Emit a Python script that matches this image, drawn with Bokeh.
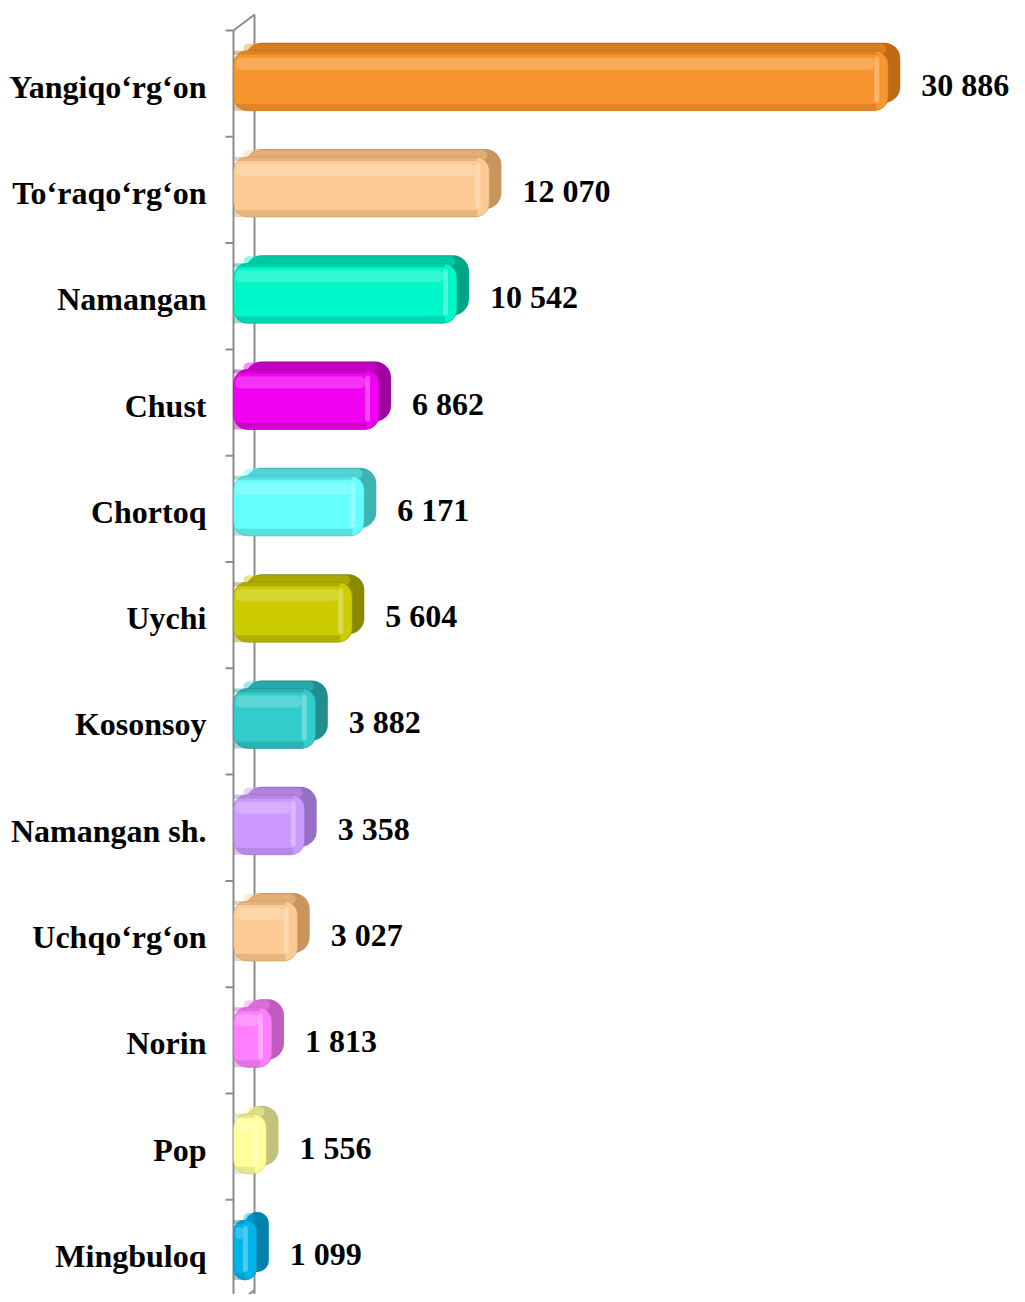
from bokeh.plotting import figure
from bokeh.models import Range1d
from bokeh.core.properties import value
from bokeh.embed import file_html
from bokeh.resources import INLINE

# ---- data ----
districts = ["Yangiqo‘rg‘on", "To‘raqo‘rg‘on", "Namangan", "Chust", "Chortoq", "Uychi",
             "Kosonsoy", "Namangan sh.", "Uchqo‘rg‘on", "Norin", "Pop", "Mingbuloq"]
values = [30886, 12070, 10542, 6862, 6171, 5604, 3882, 3358, 3027, 1813, 1556, 1099]
value_labels = [f"{v:,}".replace(",", " ") for v in values]
colors = ["#F7962F", "#FCCB94", "#00F7CA", "#F200F2", "#66FFFF", "#CCCC00",
          "#33CCCC", "#CC99FF", "#FCCB94", "#FF80FF", "#FFFF99", "#00B4EA"]
darks = ["#C06A16", "#C9955E", "#00A586", "#A000A0", "#3FB3B3", "#8A8A00",
         "#218E8E", "#9570C4", "#C9955E", "#BF5CBF", "#C2C27A", "#0082AD"]

# ---- layout constants ----
W, H = 1017, 1294
AXIS_PX = 233          # front axis position in figure px
PX_PER_UNIT = 0.0212
BAND = 106.3
TOP_PX = 30.0

UPX = 1.0 / PX_PER_UNIT


def dx(px):
    return px * UPX


def dy(px):
    return px / BAND


n = len(districts)
centers = [i + 0.5 for i in range(n)]

p = figure(width=W, height=H, output_backend="svg", toolbar_location=None,
           x_range=Range1d(-AXIS_PX * UPX, (W - AXIS_PX) * UPX),
           y_range=Range1d((H - TOP_PX) / BAND, -TOP_PX / BAND),
           x_axis_location=None, y_axis_location=None, min_border=0)
p.outline_line_color = None
p.xgrid.visible = False
p.ygrid.visible = False
p.background_fill_color = "white"
p.border_fill_color = "white"

# ---- 3D wall lines ----
GRAY = "#8C8C8C"
DEPTH_X, DEPTH_Y = 21, 16
bounds = list(range(n + 1))
p.segment(x0=[0], y0=[0], x1=[0], y1=[n + 0.3], line_color=GRAY, line_width=2)
p.segment(x0=[dx(DEPTH_X)], y0=[-dy(DEPTH_Y)], x1=[dx(DEPTH_X)], y1=[n + 0.3],
          line_color=GRAY, line_width=2)
p.segment(x0=[0, 0], y0=[0, n], x1=[dx(DEPTH_X)] * 2, y1=[-dy(DEPTH_Y), n - dy(DEPTH_Y)],
          line_color=GRAY, line_width=2)
p.segment(x0=[-dx(8)] * len(bounds), y0=bounds, x1=[0] * len(bounds), y1=bounds,
          line_color=GRAY, line_width=2)

# ---- bars ----
p.quad(left=[dx(12)] * n, right=[v + dx(12) for v in values],
       top=[c - dy(41) for c in centers], bottom=[c + dy(19) for c in centers],
       fill_color=darks, line_color=None, border_radius=16)
# top face tint
p.quad(left=[dx(10)] * n, right=[max(v - dx(2), dx(12)) for v in values],
       top=[c - dy(40) for c in centers], bottom=[c - dy(30) for c in centers],
       fill_color=colors, fill_alpha=0.45, line_color=None, border_radius=6)
# front face
p.quad(left=[0] * n, right=values,
       top=[c - dy(33) for c in centers], bottom=[c + dy(27) for c in centers],
       fill_color=colors, line_color=darks, line_alpha=0.6, line_width=1, border_radius=14)
# upper shading
p.quad(left=[0] * n, right=[max(v - dx(12), dx(4)) for v in values],
       top=[c - dy(33) for c in centers], bottom=[c - dy(29) for c in centers],
       fill_color=darks, fill_alpha=0.45, line_color=None)
# highlight band
p.quad(left=[dx(2)] * n, right=[max(v - dx(14), dx(4)) for v in values],
       top=[c - dy(26) for c in centers], bottom=[c - dy(14) for c in centers],
       fill_color="white", fill_alpha=0.2, line_color=None, border_radius=5)
# right highlight
p.quad(left=[max(v - dx(14), dx(3)) for v in values], right=[max(v - dx(9), dx(8)) for v in values],
       top=[c - dy(27) for c in centers], bottom=[c + dy(19) for c in centers],
       fill_color="white", fill_alpha=0.3, line_color=None, border_radius=3)
# bottom shade
p.quad(left=[0] * n, right=[max(v - dx(12), dx(4)) for v in values],
       top=[c + dy(20) for c in centers], bottom=[c + dy(27) for c in centers],
       fill_color=darks, fill_alpha=0.4, line_color=None)

# ---- text ----
p.text(x=[0] * n, y=[c + dy(3) for c in centers], text=districts, x_offset=-27,
       text_align="right", text_baseline="middle",
       text_font=value("Liberation Serif"), text_font_style="bold",
       text_font_size="32px", text_color="black")
p.text(x=values, y=[c + dy(1) for c in centers], text=value_labels, x_offset=33,
       text_align="left", text_baseline="middle",
       text_font=value("Liberation Serif"), text_font_style="bold",
       text_font_size="32px", text_color="black")

open("out.html", "w").write(file_html(p, INLINE))
